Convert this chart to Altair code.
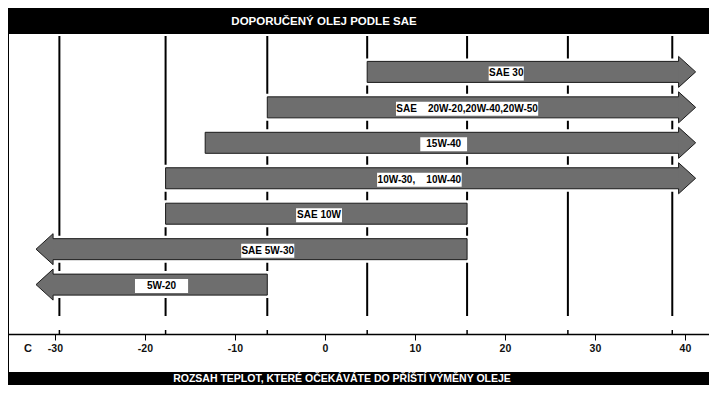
import altair as alt
import pandas as pd

# ---------------- data ----------------
oils = ["SAE 30",
        "SAE\u00a0\u00a0\u00a0\u00a020W-20,20W-40,20W-50",
        "15W-40",
        "10W-30,\u00a0\u00a0\u00a0\u00a010W-40",
        "SAE 10W",
        "SAE 5W-30",
        "5W-20"]
lo = [4.7, -6.4, -13.3, -17.7, -17.7, -30.2, -30.2]      # °C, left end (arrow head base if arrow left)
hi = [39.3, 39.3, 39.3, 39.3, 15.8, 15.8, -6.4]          # °C, right end (arrow head base if arrow right)
arrow = ["right", "right", "right", "right", "none", "left", "left"]
label_lo = [18.2, 7.9, 10.6, 5.8, -3.2, -9.3, -21.1]
label_hi = [22.1, 23.7, 15.8, 15.2, 1.9, -3.4, -15.2]
f_lines = [-29.5, -17.7, -6.4, 4.7, 15.8, 27.0, 38.6]    # Fahrenheit guide lines (-20..100 °F) in °C
c_ticks = [-30, -20, -10, 0, 10, 20, 30, 40]
title_top = "DOPORUČENÝ OLEJ PODLE SAE"
title_bottom = "ROZSAH TEPLOT, KTERÉ OČEKÁVÁTE DO PŘÍŠTÍ VÝMĚNY OLEJE"
unit = "C"

# ---------------- layout / style ----------------
W, H = 701, 377
SANS = "Liberation Sans, Arial"
GRAY = "#6e6e6e"
EDGE = "#1a1a1a"
xs = alt.Scale(domain=[-35.21, 42.68], nice=False, zero=False)
ys = alt.Scale(domain=[-1.661, 8.690], range=[0, H], nice=False, zero=False)
RIGHT_HEAD = "M 0 -0.68 L 0 -1 L 1.1 0 L 0 1 L 0 0.68"
LEFT_HEAD = "M 0 -0.68 L 0 -1 L -1.1 0 L 0 1 L 0 0.68"

AX = alt.Axis(values=c_ticks, offset=-51, grid=False, title=None,
              domainColor="black", domainWidth=1.5, tickColor="black",
              tickSize=6, tickWidth=1, labelFont=SANS, labelFontWeight="bold",
              labelFontSize=10.5, labelColor="#111", labelPadding=3,
              labelFlush=False, labelExpr="'' + datum.value")

df = pd.DataFrame({"oil": oils, "lo": lo, "hi": hi, "arrow": arrow,
                   "llo": label_lo, "lhi": label_hi, "row": list(range(len(oils)))})
df["blo"] = [l - 0.3 if a == "left" else l for l, a in zip(lo, arrow)]
df["bhi"] = [h + 0.3 if a == "right" else h for h, a in zip(hi, arrow)]
df["lc"] = [(a + b) / 2 for a, b in zip(label_lo, label_hi)]

fdf = pd.DataFrame({"f": f_lines})
one = pd.DataFrame({"a": [0]})

X = lambda f: alt.X(f, type="quantitative", scale=xs, axis=AX)
Y = alt.Y("row:Q", scale=ys, axis=None)

base = alt.Chart(df)

frame = alt.Chart(one).mark_rule(color="black", strokeWidth=2).encode(
    x=alt.value(0), y=alt.value(0), y2=alt.value(364))

top_bar = alt.Chart(one).mark_rect(color="black").encode(
    x=alt.value(0), x2=alt.value(W), y=alt.value(0), y2=alt.value(26))
top_txt = alt.Chart(pd.DataFrame({"t": [title_top]})).mark_text(
    color="white", font=SANS, fontWeight="bold", fontSize=11.5, baseline="middle").encode(
    x=alt.value(316), y=alt.value(13.5), text="t:N")

bot_bar = alt.Chart(one).mark_rect(color="black").encode(
    x=alt.value(0), x2=alt.value(W), y=alt.value(364), y2=alt.value(H))
bot_txt = alt.Chart(pd.DataFrame({"t": [title_bottom]})).mark_text(
    color="white", font=SANS, fontWeight="bold", fontSize=10.5, baseline="middle").encode(
    x=alt.value(334), y=alt.value(371), text="t:N")

vlines = alt.Chart(fdf).mark_rule(color="black", strokeWidth=2).encode(
    x=X("f"), y=alt.value(28), y2=alt.value(308))
fticks = alt.Chart(fdf).mark_rule(color="black", strokeWidth=1.5).encode(
    x=X("f"), y=alt.value(322), y2=alt.value(326))

unit_txt = alt.Chart(pd.DataFrame({"t": [unit]})).mark_text(
    color="#111", font=SANS, fontWeight="bold", fontSize=11, baseline="middle").encode(
    x=alt.value(20), y=alt.value(341), text="t:N")

# white halo around the arrows
halo_bar = base.mark_bar(orient="horizontal", size=21, color="white", stroke="white",
                         strokeWidth=6).encode(x=X("blo"), x2="bhi", y=Y)
halo_r = base.transform_filter("datum.arrow == 'right'").mark_point(
    shape=RIGHT_HEAD, size=961, filled=True, fill="white", stroke="white",
    strokeWidth=6, opacity=1).encode(x=X("hi"), y=Y)
halo_l = base.transform_filter("datum.arrow == 'left'").mark_point(
    shape=LEFT_HEAD, size=961, filled=True, fill="white", stroke="white",
    strokeWidth=6, opacity=1).encode(x=X("lo"), y=Y)

bars = base.mark_bar(orient="horizontal", size=21, color=GRAY, stroke=EDGE,
                     strokeWidth=1).encode(x=X("blo"), x2="bhi", y=Y)
head_r = base.transform_filter("datum.arrow == 'right'").mark_point(
    shape=RIGHT_HEAD, size=961, filled=True, fill=GRAY, stroke=EDGE,
    strokeWidth=1, opacity=1).encode(x=X("hi"), y=Y)
head_l = base.transform_filter("datum.arrow == 'left'").mark_point(
    shape=LEFT_HEAD, size=961, filled=True, fill=GRAY, stroke=EDGE,
    strokeWidth=1, opacity=1).encode(x=X("lo"), y=Y)

lbox = base.mark_bar(orient="horizontal", size=14, color="white", yOffset=1.5).encode(
    x=X("llo"), x2="lhi", y=Y)
ltxt = base.mark_text(font=SANS, fontWeight="bold", fontSize=10, color="black",
                      baseline="middle", yOffset=1.5).encode(
    x=X("lc"), y=Y, text="oil:N")

chart = alt.layer(
    frame, vlines, fticks, halo_bar, halo_r, halo_l, bars, head_r, head_l,
    lbox, ltxt, top_bar, top_txt, bot_bar, bot_txt, unit_txt
).properties(
    width=W, height=H, padding=0,
    autosize=alt.AutoSizeParams(type="none"),
    background="white"
).configure_view(stroke=None)

chart.save("out.html", embed_options={"renderer": "svg", "actions": False})
